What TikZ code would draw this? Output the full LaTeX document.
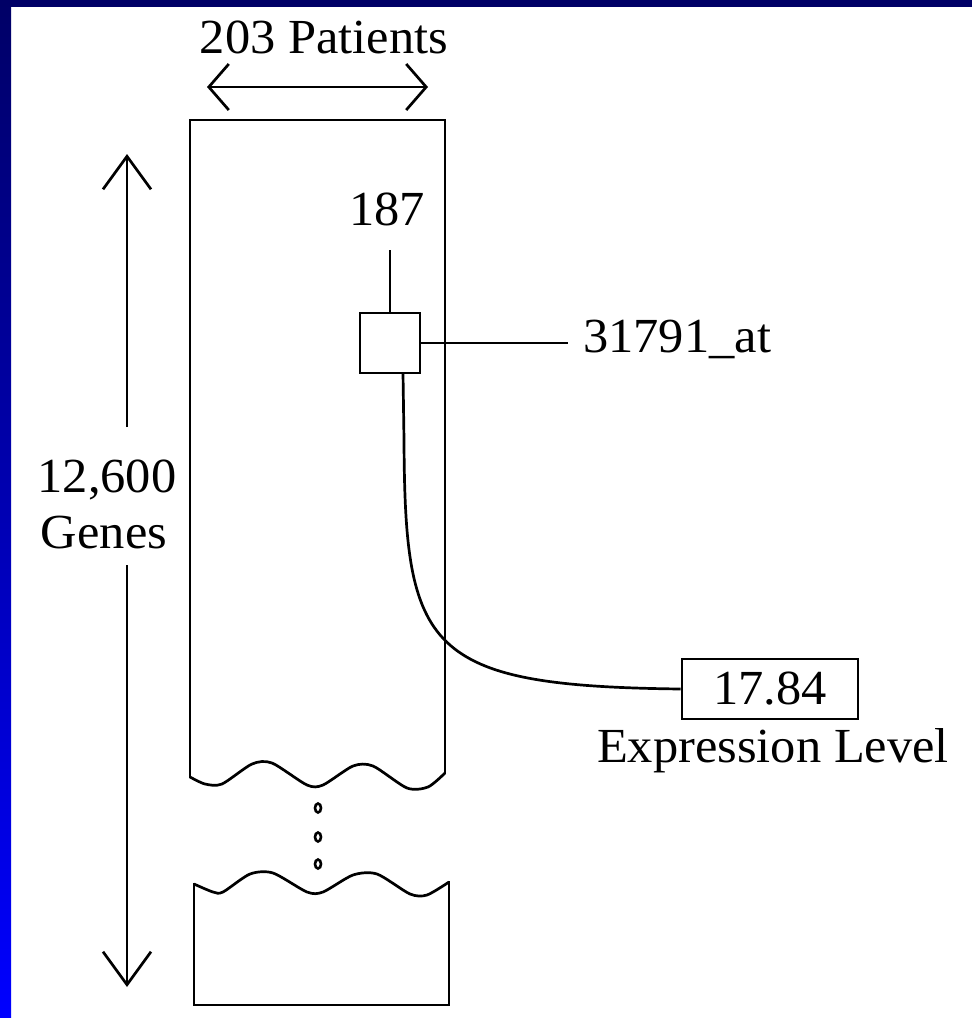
\documentclass[tikz,border=0pt]{standalone}
\usepackage{fontspec}
\setmainfont[FakeStretch=1.03]{Liberation Serif}
\usetikzlibrary{arrows.meta}
\definecolor{navytop}{HTML}{000066}
\definecolor{bluebot}{HTML}{0000FF}
\begin{document}
\begin{tikzpicture}[x=1pt,y=-1pt,
  ln/.style={line width=2.7pt},
  lbl/.style={inner sep=0pt, anchor=base, font=\fontsize{49}{58}\selectfont},
  hbarb/.style={ln, {Straight Barb[length=20pt,width=46pt]}-{Straight Barb[length=20pt,width=46pt]}},
  vbarb/.style={ln, -{Straight Barb[length=33pt,width=48pt]}},
  dotmark/.style={line width=2.6pt}]
% frame
\useasboundingbox (0,0) rectangle (972,1018);
\fill[white] (0,0) rectangle (972,1018);
\shade[top color=navytop, bottom color=bluebot] (0,0) rectangle (11,1018);
\fill[navytop] (0,0) rectangle (972,7);
% top label and arrow
\node[lbl] (patients) at (324,53) {203 Patients};
\coordinate (hl) at (207,87);
\coordinate (hr) at (428,87);
\draw[hbarb] (hl) -- (hr);
% vertical arrow and label
\node[lbl] (n12600) at (107,492) {12,600};
\node[lbl] (ngenes) at (104,548) {Genes};
\coordinate (vtop) at (127,154);
\coordinate (vt2) at (127,427);
\coordinate (vb2) at (127,565);
\coordinate (vbot) at (127,987);
\draw[vbarb] (vt2) -- (vtop);
\draw[vbarb] (vb2) -- (vbot);
% upper column
\draw[ln, line join=miter] (190,778) -- (190,120) -- (445,120) -- (445,774);
\draw[ln] plot[smooth, tension=0.45] coordinates {(190,777) (205,784) (222,784) (252,764) (272,763) (307,785) (323,785) (353,766) (373,766) (407,788) (428,787) (445,773)};
% dots
\draw[dotmark] (318,808) ellipse [x radius=3pt, y radius=4.5pt];
\draw[dotmark] (318,837) ellipse [x radius=3pt, y radius=4.5pt];
\draw[dotmark] (318,864) ellipse [x radius=3pt, y radius=4.5pt];
% lower column
\draw[ln] plot[smooth, tension=0.45] coordinates {(194,884) (213,892) (223,892) (250,874) (273,873) (307,892) (323,892) (353,875) (377,874) (410,894) (427,895) (449,882)};
\draw[ln, line join=miter] (194,883) -- (194,1005) -- (449,1005) -- (449,881);
% cell
\node[draw, ln, minimum width=60pt, minimum height=60pt, inner sep=0pt] (sq) at (390,343) {};
\node[lbl] (n187) at (387,225) {187};
\coordinate (c187) at (390,250);
\draw[ln] (sq.north) -- (c187);
\node[lbl, anchor=base west] (probe) at (583,352) {31791\_at};
\coordinate (cprobe) at (568,343);
\draw[ln] (sq.east) -- (cprobe);
% expression value
\node[draw, ln, minimum width=176pt, minimum height=60pt, inner sep=0pt, font=\fontsize{49}{58}\selectfont] (val) at (770,689) {17.84};
\node[lbl] (expr) at (773,762) {Expression Level};
\coordinate (cstart) at (403,373);
\draw[ln] (cstart) -- (404,440) .. controls (405,650) and (425,686) .. (val.west);
\end{tikzpicture}
\end{document}
